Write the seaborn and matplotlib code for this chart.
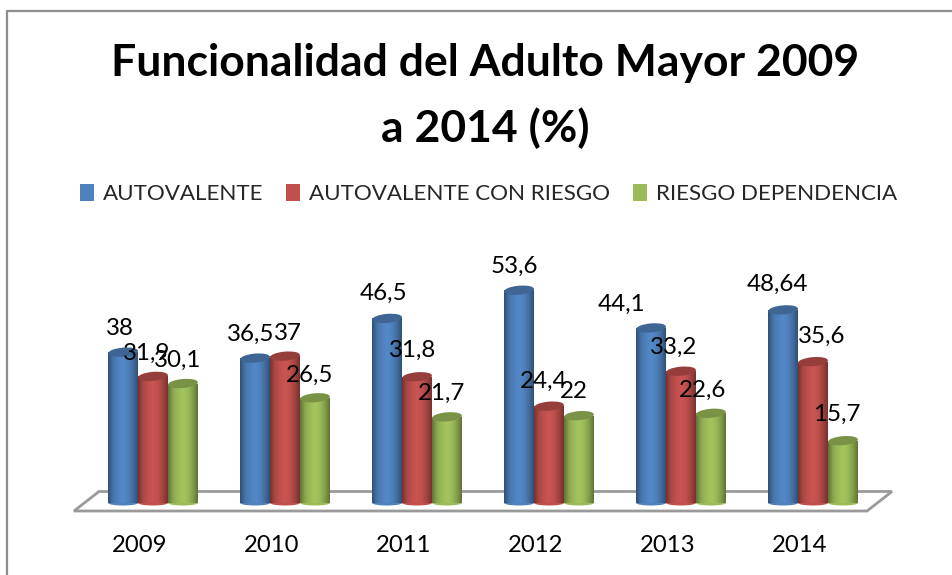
"""
Funcionalidad del Adulto Mayor 2009 a 2014 - barras cilindricas estilo Excel 3D
"""
import numpy as np
import pandas as pd
import matplotlib
matplotlib.use("Agg")
import matplotlib.pyplot as plt
from matplotlib.colors import LinearSegmentedColormap, to_rgb
from matplotlib.lines import Line2D
from matplotlib.patches import Ellipse, Patch, Polygon
from matplotlib.transforms import IdentityTransform
import seaborn as sns

# datos
years = ["2009", "2010", "2011", "2012", "2013", "2014"]
autovalente = [38, 36.5, 46.5, 53.6, 44.1, 48.64]
con_riesgo = [31.9, 37, 31.8, 24.4, 33.2, 35.6]
dependencia = [30.1, 26.5, 21.7, 22, 22.6, 15.7]
series_names = ["AUTOVALENTE", "AUTOVALENTE CON RIESGO", "RIESGO DEPENDENCIA"]
value_labels = [
    ["38", "36,5", "46,5", "53,6", "44,1", "48,64"],
    ["31,9", "37", "31,8", "24,4", "33,2", "35,6"],
    ["30,1", "26,5", "21,7", "22", "22,6", "15,7"],
]

# estilo
colors = ["#4F81BD", "#C0504D", "#9BBB59"]
gray = "#9A9A9A"
W, H = 952, 575
PT = 0.72  # px a puntos con dpi=100
# desplazamiento de cada etiqueta respecto al centro/tope de su barra, en px
label_dx = [
    [-3, -4, -4, -5, -30, -6],
    [-6, 3, -4, -5, -7, 9],
    [-5, -5, -5, -5, -8, -6],
]
label_dy = [
    [24, 24, 25, 24, 24, 26],
    [23, 23, 26, 25, 24, 25],
    [23, 22, 24, 24, 23, 26],
]

sns.set_theme(style="white")
plt.rcParams["font.family"] = ["Lato", "DejaVu Sans"]


def fx(px):
    return px / W


def fy(py):
    return 1 - py / H


df = pd.DataFrame({
    "year": years * 3,
    "serie": np.repeat(series_names, len(years)),
    "valor": autovalente + con_riesgo + dependencia,
})

fig = plt.figure(figsize=(W / 100, H / 100), dpi=100)
# 132 px por categoria, 3.97 px por unidad
ax = fig.add_axes([fx(87), fy(503), 792 / W, 238.2 / H])
ax.patch.set_alpha(0)

sns.barplot(data=df, x="year", y="valor", hue="serie", order=years,
            hue_order=series_names, palette=colors, width=0.68, gap=0,
            saturation=1, legend=False, ax=ax)
ax.set_xlim(-0.5, 5.5)
ax.set_ylim(0, 60)
ax.set_xlabel("")
ax.set_ylabel("")
ax.set_yticks([])
ax.set_xticks([])
sns.despine(ax=ax, left=True, bottom=True)

# marco gris (solo arriba e izquierda, el resto queda fuera de la imagen)
fig.add_artist(Line2D([fx(7), fx(7), 1], [0, fy(11), fy(11)], color="#8E8E8E",
                      lw=1.6, transform=fig.transFigure))

# piso 3D
floor = Polygon([(fx(74), fy(511)), (fx(867), fy(511)), (fx(892), fy(491.5)),
                 (fx(99), fy(491.5))], closed=True, facecolor="white",
                edgecolor=gray, lw=2, transform=fig.transFigure)
fig.add_artist(floor)
floor.set_zorder(-1)


def shade(color):
    c = np.array(to_rgb(color))
    dark = c * 0.62
    light = np.clip(c * 1.06, 0, 1)
    return LinearSegmentedColormap.from_list(
        "cyl", [dark, c * 0.9, c, light, c, c * 0.85, dark])


# convertir cada barra en cilindro
bars = list(ax.patches)
n = len(years)
px_x = ax.transData.transform((1, 0))[0] - ax.transData.transform((0, 0))[0]
px_u = 3.97
for s in range(3):
    cmap = shade(colors[s])
    top_color = tuple(np.array(to_rgb(colors[s])) * 0.78)
    for i in range(n):
        bar = bars[s * n + i]
        x0, w, h = bar.get_x(), bar.get_width(), bar.get_height()
        z = 3 + s
        bar.set_visible(False)
        # cuerpo con gradiente
        im = ax.imshow(np.linspace(0, 1, 64)[None, :], cmap=cmap, aspect="auto",
                       extent=(x0, x0 + w, 0, h), zorder=z)
        im.set_clip_path(plt.Rectangle((x0, 0), w, h, transform=ax.transData))
        # base redondeada
        ax.add_patch(Ellipse((x0 + w / 2, 0), w, 5 / px_u, facecolor=colors[s],
                             edgecolor="none", zorder=z - 0.1, clip_on=False))
        # tapa
        cx, cy = ax.transData.transform((x0 + w / 2, h))
        cap = Ellipse((cx, cy), w * px_x, 9, angle=5, facecolor=top_color,
                      edgecolor="none", zorder=z + 0.1, clip_on=False,
                      transform=IdentityTransform())
        ax.add_artist(cap)
        # etiqueta
        ax.annotate(value_labels[s][i], (x0 + w / 2, h),
                    xytext=(label_dx[s][i] * PT, label_dy[s][i] * PT),
                    textcoords="offset points", ha="center", va="center",
                    fontsize=17.4, color="black", zorder=20, annotation_clip=False)

ax.set_xlim(-0.5, 5.5)
ax.set_ylim(0, 60)

# categorias (desplazadas hacia la izquierda como en la perspectiva original)
for i, y in enumerate(years):
    ax.annotate(y, (i, 0), xytext=(-13 * PT, -43 * PT), textcoords="offset points",
                ha="center", va="center", fontsize=17.2, color="black",
                annotation_clip=False)

fig.text(fx(485), fy(63), "Funcionalidad del Adulto Mayor 2009", ha="center", va="center",
         fontsize=32, fontweight="bold", color="black")
fig.text(fx(485), fy(128), "a 2014 (%)", ha="center", va="center",
         fontsize=32, fontweight="bold", color="black")

handles = [Patch(facecolor=c, edgecolor="none") for c in colors]
fig.legend(handles, series_names, ncol=3, loc="center", bbox_to_anchor=(fx(488.5), fy(194)),
           frameon=False, fontsize=16.1, handlelength=0.65, handleheight=0.8,
           handletextpad=0.4, columnspacing=1.0)

fig.savefig("out.png", dpi=100)
